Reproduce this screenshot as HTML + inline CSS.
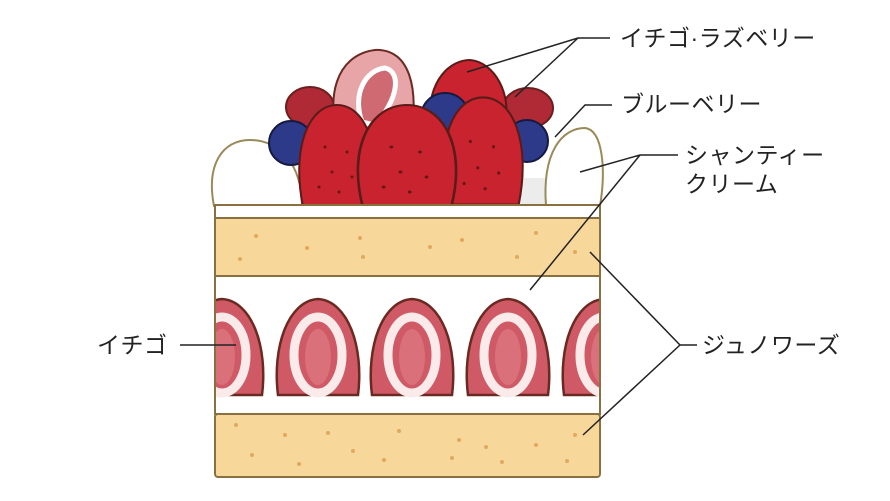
<!DOCTYPE html>
<html><head><meta charset="utf-8"><style>
html,body{margin:0;padding:0;background:#fff;width:890px;height:501px;overflow:hidden}
svg{display:block}
text{font-family:"Liberation Sans","Noto Sans CJK JP",sans-serif;font-size:23px;fill:#222;letter-spacing:0.5px}
</style></head><body>
<svg width="890" height="501" viewBox="0 0 890 501">
<defs>
<g id="slice">
<path d="M-40,48 C-46,0 -30,-46 0,-48 C30,-46 46,0 40,48 Z" fill="#cf5a66" stroke="#6a2a22" stroke-width="2.5"/>
<ellipse cx="0" cy="8" rx="24" ry="38" fill="none" stroke="#fbeaea" stroke-width="9"/>
<ellipse cx="0" cy="10" rx="13" ry="28" fill="#d9707a"/>
</g>
<g id="berry">
<path d="M-34,50 C-46,-10 -28,-52 0,-52 C28,-52 46,-10 34,50 Z" fill="#c8232e" stroke="#5a1c18" stroke-width="2"/>
<g fill="#6a1518"><circle cx="-12" cy="-10" r="1.5"/><circle cx="10" cy="-5" r="1.5"/><circle cx="-5" cy="15" r="1.5"/><circle cx="15" cy="20" r="1.5"/><circle cx="-18" cy="30" r="1.5"/><circle cx="2" cy="35" r="1.5"/></g>
</g>
</defs>
<!-- cream mounds -->
<rect x="300" y="178" width="250" height="28" fill="#ececec"/>
<path d="M214,206 C206,165 222,140 250,140 C280,140 302,165 302,206 Z" fill="#fff" stroke="#9a8a5a" stroke-width="2"/>
<path d="M546,206 C542,152 562,128 585,128 C603,130 606,170 600,206 Z" fill="#fff" stroke="#9a8a5a" stroke-width="2"/>
<!-- raspberries -->
<ellipse cx="310" cy="107" rx="24" ry="20" fill="#b02a35" stroke="#6a2020" stroke-width="2"/>
<ellipse cx="528" cy="108" rx="25" ry="20" fill="#b02a35" stroke="#6a2020" stroke-width="2"/>
<!-- back strawberry -->
<path d="M430,120 C428,80 450,60 470,60 C495,62 512,95 505,125 Z" fill="#c8232e" stroke="#5a1c18" stroke-width="2"/>
<!-- cut strawberry -->
<path d="M340,140 C325,100 335,55 375,50 C410,48 420,90 410,140 Z" fill="#e7a5a8" stroke="#6a2a22" stroke-width="2"/>
<path d="M362,122 C352,95 365,70 385,68 C402,72 398,100 375,125 Z" fill="#cf6a72" stroke="#fff" stroke-width="5"/>
<!-- blueberries -->
<circle cx="291" cy="143" r="22" fill="#2d3a8a" stroke="#151a40" stroke-width="2"/>
<circle cx="445" cy="117" r="24" fill="#2d3a8a" stroke="#151a40" stroke-width="2"/>
<circle cx="527" cy="141" r="21" fill="#2d3a8a" stroke="#151a40" stroke-width="2"/>
<!-- strawberries -->
<use href="#berry" transform="translate(337,157)"/>
<use href="#berry" transform="translate(483,152) scale(1.05,1.05)"/>
<use href="#berry" transform="translate(407,157) scale(1.3,1)"/>
<!-- cake -->
<rect x="215" y="205" width="385" height="13" fill="#fff" stroke="#8a7040" stroke-width="2"/>
<rect x="215" y="218" width="385" height="58" fill="#f7d89a" stroke="#8a7040" stroke-width="2"/>
<rect x="215" y="276" width="385" height="138" fill="#fff" stroke="#8a7040" stroke-width="2"/>
<rect x="215" y="414" width="385" height="63" fill="#f7d89a" stroke="#8a7040" stroke-width="2" rx="3"/>
<g fill="#e0a860">
<circle cx="256" cy="236" r="2"/><circle cx="307" cy="248" r="2"/><circle cx="360" cy="238" r="2"/><circle cx="430" cy="247" r="2"/><circle cx="462" cy="240" r="2"/><circle cx="536" cy="233" r="2"/><circle cx="575" cy="252" r="2"/><circle cx="240" cy="259" r="2"/><circle cx="363" cy="257" r="2"/><circle cx="517" cy="257" r="2"/>
<circle cx="236" cy="425" r="2"/><circle cx="285" cy="435" r="2"/><circle cx="328" cy="433" r="2"/><circle cx="399" cy="431" r="2"/><circle cx="459" cy="440" r="2"/><circle cx="486" cy="447" r="2"/><circle cx="536" cy="445" r="2"/><circle cx="575" cy="435" r="2"/><circle cx="252" cy="455" r="2"/><circle cx="299" cy="464" r="2"/><circle cx="353" cy="451" r="2"/><circle cx="384" cy="460" r="2"/><circle cx="452" cy="458" r="2"/><circle cx="502" cy="462" r="2"/><circle cx="567" cy="461" r="2"/>
</g>
<!-- slices -->
<clipPath id="c"><rect x="216" y="277" width="383" height="136"/></clipPath>
<g clip-path="url(#c)">
<use href="#slice" transform="translate(222,347)"/>
<use href="#slice" transform="translate(318,347)"/>
<use href="#slice" transform="translate(412,347)"/>
<use href="#slice" transform="translate(508,347)"/>
<use href="#slice" transform="translate(604,347)"/>
</g>
<!-- leader lines -->
<g stroke="#222" stroke-width="1.5" fill="none">
<polyline points="467,72 578,38 610,38"/><line x1="578" y1="38" x2="515" y2="97"/>
<polyline points="555,137 585,105 612,105"/>
<polyline points="580,172 640,155 678,155"/><line x1="640" y1="155" x2="530" y2="290"/>
<polyline points="590,252 680,345 697,345"/><line x1="680" y1="345" x2="583" y2="435"/>
<line x1="180" y1="345" x2="236" y2="345"/>
</g>
<text x="620" y="46">イチゴ·ラズベリー</text>
<text x="621" y="112">ブルーベリー</text>
<text x="685" y="163">シャンティー</text>
<text x="685" y="192">クリーム</text>
<text x="702" y="353">ジュノワーズ</text>
<text x="97" y="353">イチゴ</text>
</svg>
</body></html>
